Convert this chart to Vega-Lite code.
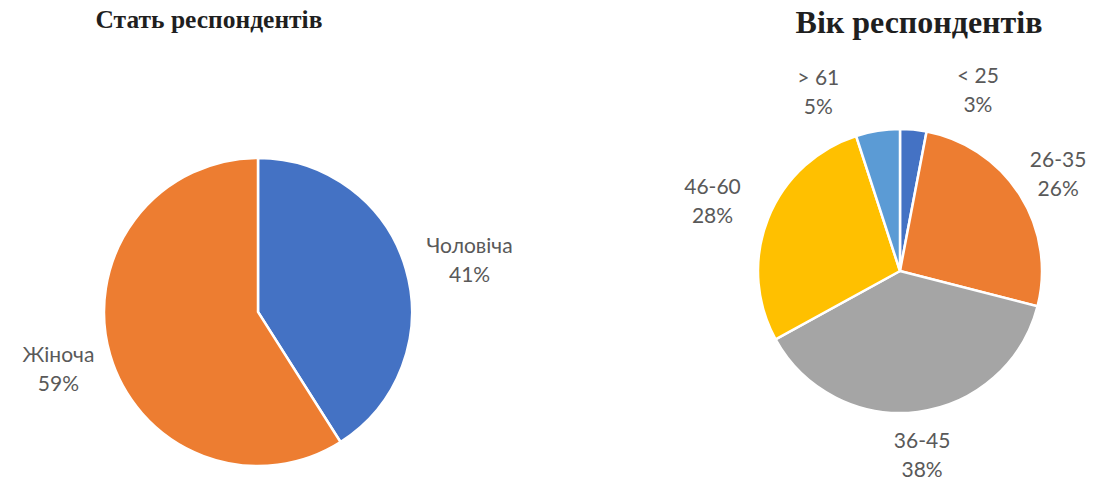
{
  "$schema": "https://vega.github.io/schema/vega-lite/v6.json",
  "padding": {"top": 6, "left": 0, "right": 0, "bottom": 0},
  "background": "white",
  "bounds": "flush",
  "spacing": 176,
  "resolve": {"scale": {"color": "independent", "theta": "independent"}},
  "config": {"view": {"stroke": null}, "text": {"font": "Lato", "fontSize": 21, "lineHeight": 29, "color": "#595959"}},
  "hconcat": [
    {
      "width": 516,
      "height": 346,
      "title": {"text": "Стать респондентів", "font": "Liberation Serif", "fontSize": 25.5, "fontWeight": "bold", "color": "#1f1f1f", "anchor": "middle", "dx": -49, "offset": 86, "baseline": "alphabetic"},
      "data": {"values": [
        {"category": "Чоловіча", "share": 0.41, "order": 1},
        {"category": "Жіноча", "share": 0.59, "order": 2}
      ]},
      "transform": [{"calculate": "[datum.category, format(datum.share, '.0%')]", "as": "label"}],
      "encoding": {
        "theta": {"field": "share", "type": "quantitative", "stack": true},
        "order": {"field": "order", "type": "quantitative"}
      },
      "layer": [
        {
          "mark": {"type": "arc", "outerRadius": 154, "stroke": "white", "strokeWidth": 2.5},
          "encoding": {
            "color": {"field": "category", "type": "nominal", "legend": null,
              "scale": {"domain": ["Чоловіча", "Жіноча"], "range": ["#4472C4", "#ED7D31"]}}
          }
        },
        {
          "mark": {"type": "text", "radius": 213, "dx": 7, "dy": -6},
          "encoding": {"text": {"field": "label"},
            "opacity": {"condition": {"test": "datum.category == 'Чоловіча'", "value": 1}, "value": 0}}
        },
        {
          "mark": {"type": "text", "radius": 213, "dx": 5, "dy": -15},
          "encoding": {"text": {"field": "label"},
            "opacity": {"condition": {"test": "datum.category == 'Жіноча'", "value": 1}, "value": 0}}
        }
      ]
    },
    {
      "width": 416,
      "height": 264,
      "title": {"text": "Вік респондентів", "font": "Liberation Serif", "fontSize": 32, "fontWeight": "bold", "color": "#1f1f1f", "anchor": "middle", "dx": 19, "offset": -15, "baseline": "alphabetic"},
      "data": {"values": [
        {"category": "< 25", "share": 0.03, "order": 1},
        {"category": "26-35", "share": 0.26, "order": 2},
        {"category": "36-45", "share": 0.38, "order": 3},
        {"category": "46-60", "share": 0.28, "order": 4},
        {"category": "> 61", "share": 0.05, "order": 5}
      ]},
      "transform": [{"calculate": "[datum.category, format(datum.share, '.0%')]", "as": "label"}],
      "encoding": {
        "theta": {"field": "share", "type": "quantitative", "stack": true},
        "order": {"field": "order", "type": "quantitative"}
      },
      "layer": [
        {
          "mark": {"type": "arc", "outerRadius": 142, "stroke": "white", "strokeWidth": 2.5},
          "encoding": {
            "color": {"field": "category", "type": "nominal", "legend": null,
              "scale": {"domain": ["< 25", "26-35", "36-45", "46-60", "> 61"], "range": ["#4472C4", "#ED7D31", "#A5A5A5", "#FFC000", "#5B9BD5"]}}
          }
        },
        {
          "mark": {"type": "text", "radius": 190, "dx": 60, "dy": -5},
          "encoding": {"text": {"field": "label"},
            "opacity": {"condition": {"test": "datum.category == '< 25'", "value": 1}, "value": 0}}
        },
        {
          "mark": {"type": "text", "radius": 192, "dx": -4, "dy": -7},
          "encoding": {"text": {"field": "label"},
            "opacity": {"condition": {"test": "datum.category == '26-35'", "value": 1}, "value": 0}}
        },
        {
          "mark": {"type": "text", "radius": 192, "dx": -2, "dy": -19},
          "encoding": {"text": {"field": "label"},
            "opacity": {"condition": {"test": "datum.category == '36-45'", "value": 1}, "value": 0}}
        },
        {
          "mark": {"type": "text", "radius": 192, "dx": -9, "dy": -12},
          "encoding": {"text": {"field": "label"},
            "opacity": {"condition": {"test": "datum.category == '46-60'", "value": 1}, "value": 0}}
        },
        {
          "mark": {"type": "text", "radius": 190, "dx": -52, "dy": -4},
          "encoding": {"text": {"field": "label"},
            "opacity": {"condition": {"test": "datum.category == '> 61'", "value": 1}, "value": 0}}
        }
      ]
    }
  ]
}
